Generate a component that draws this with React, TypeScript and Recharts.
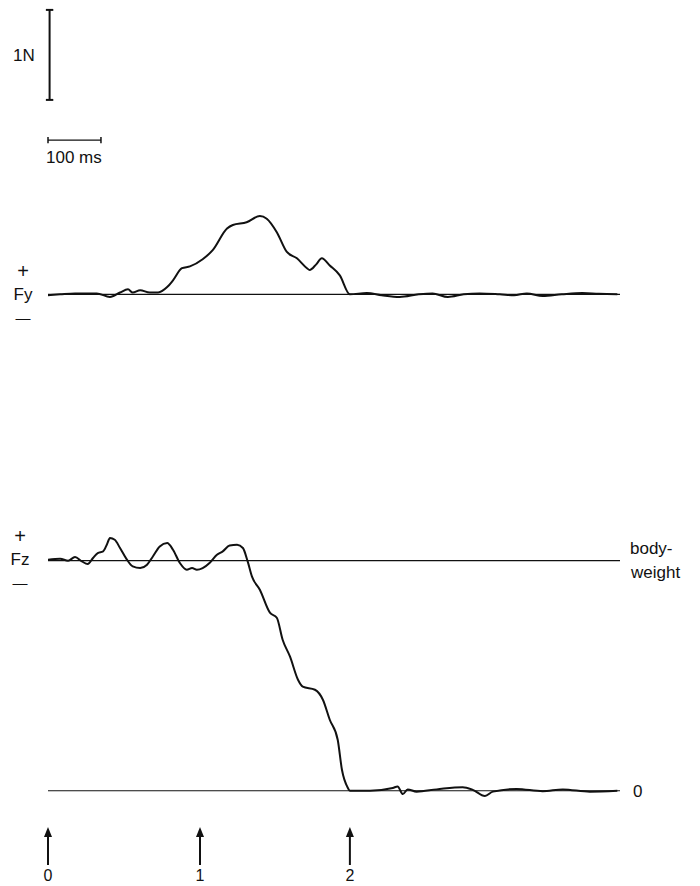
import React from 'react';
import { LineChart, Line, XAxis, YAxis, ReferenceLine } from 'recharts';

// time in ms, force in N
const fyTime = [0, 23, 51, 92, 117, 136, 151, 160, 174, 192, 208, 225, 236, 253, 268, 292, 311, 338, 349, 375, 400, 413, 432, 451, 470, 489, 494, 506, 517, 532, 551, 570, 602, 630, 664, 700, 726, 755, 785, 815, 853, 880, 904, 934, 970, 1009, 1040, 1075];
const fyValue = [-0.01, 0, 0.01, 0.01, -0.03, 0.02, 0.055, 0.02, 0.045, 0.02, 0.02, 0.08, 0.155, 0.29, 0.31, 0.39, 0.49, 0.73, 0.77, 0.8, 0.87, 0.84, 0.69, 0.47, 0.4, 0.29, 0.27, 0.33, 0.4, 0.32, 0.21, 0.0, 0.015, -0.01, -0.03, 0.0, 0.01, -0.03, 0.0, 0.01, 0.0, -0.01, 0.01, -0.02, 0.0, 0.015, 0.005, 0.0];

const fzTime = [0, 23, 38, 51, 64, 75, 85, 94, 104, 111, 117, 126, 136, 149, 160, 174, 187, 198, 211, 225, 236, 249, 262, 272, 281, 292, 306, 319, 330, 343, 357, 368, 377, 385, 400, 419, 432, 443, 457, 472, 481, 504, 519, 532, 547, 555, 566, 570, 608, 651, 660, 670, 679, 696, 734, 783, 802, 825, 840, 885, 934, 972, 1023, 1075];
const fzValue = [2.567, 2.578, 2.556, 2.597, 2.548, 2.519, 2.586, 2.641, 2.659, 2.733, 2.808, 2.789, 2.697, 2.567, 2.492, 2.474, 2.511, 2.603, 2.714, 2.752, 2.678, 2.53, 2.456, 2.474, 2.456, 2.474, 2.537, 2.622, 2.659, 2.726, 2.733, 2.697, 2.548, 2.381, 2.233, 1.978, 1.922, 1.678, 1.489, 1.233, 1.156, 1.122, 1.011, 0.789, 0.567, 0.233, 0.033, 0, 0, 0.03, 0.048, -0.037, 0.015, -0.01, 0.015, 0.04, 0.01, -0.059, -0.01, 0.02, -0.005, 0.015, -0.01, 0];

const BODY_WEIGHT = 2.556;
const markerTimes = [0, 287, 570];
const markerLabels = ['0', '1', '2'];

// scale bars (in Fy units / ms)
const forceBarTime = 3;
const forceBarFrom = 2.16;
const forceBarTo = 3.16;
const timeBarLevel = 1.714;
const timeBarFrom = 0;
const timeBarTo = 100;

const fyData = fyTime.map((t, i) => ({ t, fy: fyValue[i] }));
const fzData = fzTime.map((t, i) => ({ t, fz: fzValue[i] }));

const FONT = '"Liberation Sans", Arial, Helvetica, sans-serif';
const INK = '#111';

const ArrowTick = (props: any) => {
  const { x, y, payload } = props;
  const idx = markerTimes.indexOf(payload.value);
  return (
    <g>
      <path d={`M${x},${y + 27} L${x - 4},${y + 37} L${x + 4},${y + 37} Z`} fill={INK} />
      <line x1={x} y1={y + 35} x2={x} y2={y + 65} stroke={INK} strokeWidth={2} />
      <text x={x} y={y + 81} textAnchor="middle" fontFamily={FONT} fontSize={16} fill={INK}>
        {markerLabels[idx]}
      </text>
    </g>
  );
};

const SideSigns = ({ cx, cy, name }: { cx: number; cy: number; name: string }) => (
  <g fontFamily={FONT} fill={INK}>
    <text x={cx} y={cy - 16} textAnchor="middle" fontSize={20}>+</text>
    <text x={cx} y={cy + 6} textAnchor="middle" fontSize={17}>{name}</text>
    <text x={cx} y={cy + 29} textAnchor="middle" fontSize={15}>—</text>
  </g>
);

const FyLabel = (props: any) => {
  const vb = props.viewBox || {};
  return <SideSigns cx={vb.x - 25} cy={vb.y} name="Fy" />;
};

const FzLabel = (props: any) => {
  const vb = props.viewBox || {};
  const right = vb.x + vb.width;
  return (
    <g>
      <SideSigns cx={vb.x - 28} cy={vb.y - 2} name="Fz" />
      <text x={right + 10} y={vb.y - 7} fontFamily={FONT} fontSize={17} fill={INK}>body-</text>
      <text x={right + 11} y={vb.y + 17} fontFamily={FONT} fontSize={17} fill={INK}>weight</text>
    </g>
  );
};

const ZeroLabel = (props: any) => {
  const vb = props.viewBox || {};
  return (
    <text x={vb.x + vb.width + 13} y={vb.y + 6} fontFamily={FONT} fontSize={17} fill={INK}>0</text>
  );
};

const ForceBarLabel = (props: any) => {
  const vb = props.viewBox || {};
  return (
    <text x={13} y={vb.y + vb.height / 2 + 6} fontFamily={FONT} fontSize={17} fill={INK}>1N</text>
  );
};

const TimeBarLabel = (props: any) => {
  const vb = props.viewBox || {};
  return (
    <text x={vb.x - 2} y={vb.y + 23} fontFamily={FONT} fontSize={17} fill={INK}>100 ms</text>
  );
};

export default function App() {
  return (
    <div style={{ position: 'absolute', left: 0, top: 0, width: 700, height: 886, background: '#fff' }}>
      <LineChart width={700} height={886} margin={{ top: 0, right: 80, bottom: 0, left: 48 }} style={{ fontFamily: FONT }}>
        <XAxis
          type="number"
          dataKey="t"
          domain={[0, 1080]}
          allowDataOverflow
          ticks={markerTimes}
          tick={<ArrowTick />}
          tickLine={false}
          axisLine={false}
          tickSize={0}
          tickMargin={0}
          height={86}
          interval={0}
        />
        <YAxis yAxisId="fy" type="number" hide domain={[-5.619, 3.27]} allowDataOverflow />
        <YAxis yAxisId="fz" type="number" hide domain={[-0.103, 8.786]} allowDataOverflow />

        <ReferenceLine yAxisId="fy" y={0} stroke={INK} strokeWidth={1.2} label={<FyLabel />} />
        <ReferenceLine yAxisId="fz" y={BODY_WEIGHT} stroke={INK} strokeWidth={1.2} label={<FzLabel />} />
        <ReferenceLine yAxisId="fz" y={0} stroke={INK} strokeWidth={1.2} label={<ZeroLabel />} />

        <ReferenceLine
          yAxisId="fy"
          ifOverflow="visible"
          segment={[{ x: forceBarTime, y: forceBarFrom }, { x: forceBarTime, y: forceBarTo }]}
          stroke={INK}
          strokeWidth={2}
          label={<ForceBarLabel />}
        />
        <ReferenceLine yAxisId="fy" ifOverflow="visible" segment={[{ x: forceBarTime - 7, y: forceBarTo }, { x: forceBarTime + 7, y: forceBarTo }]} stroke={INK} strokeWidth={2} />
        <ReferenceLine yAxisId="fy" ifOverflow="visible" segment={[{ x: forceBarTime - 7, y: forceBarFrom }, { x: forceBarTime + 7, y: forceBarFrom }]} stroke={INK} strokeWidth={2} />

        <ReferenceLine
          yAxisId="fy"
          ifOverflow="visible"
          segment={[{ x: timeBarFrom, y: timeBarLevel }, { x: timeBarTo, y: timeBarLevel }]}
          stroke={INK}
          strokeWidth={1.2}
          label={<TimeBarLabel />}
        />
        <ReferenceLine yAxisId="fy" ifOverflow="visible" segment={[{ x: timeBarFrom, y: timeBarLevel - 0.035 }, { x: timeBarFrom, y: timeBarLevel + 0.035 }]} stroke={INK} strokeWidth={1.5} />
        <ReferenceLine yAxisId="fy" ifOverflow="visible" segment={[{ x: timeBarTo, y: timeBarLevel - 0.035 }, { x: timeBarTo, y: timeBarLevel + 0.035 }]} stroke={INK} strokeWidth={1.5} />

        <Line yAxisId="fy" data={fyData} dataKey="fy" type="monotone" stroke={INK} strokeWidth={2} dot={false} isAnimationActive={false} />
        <Line yAxisId="fz" data={fzData} dataKey="fz" type="monotone" stroke={INK} strokeWidth={2} dot={false} isAnimationActive={false} />
      </LineChart>
    </div>
  );
}
